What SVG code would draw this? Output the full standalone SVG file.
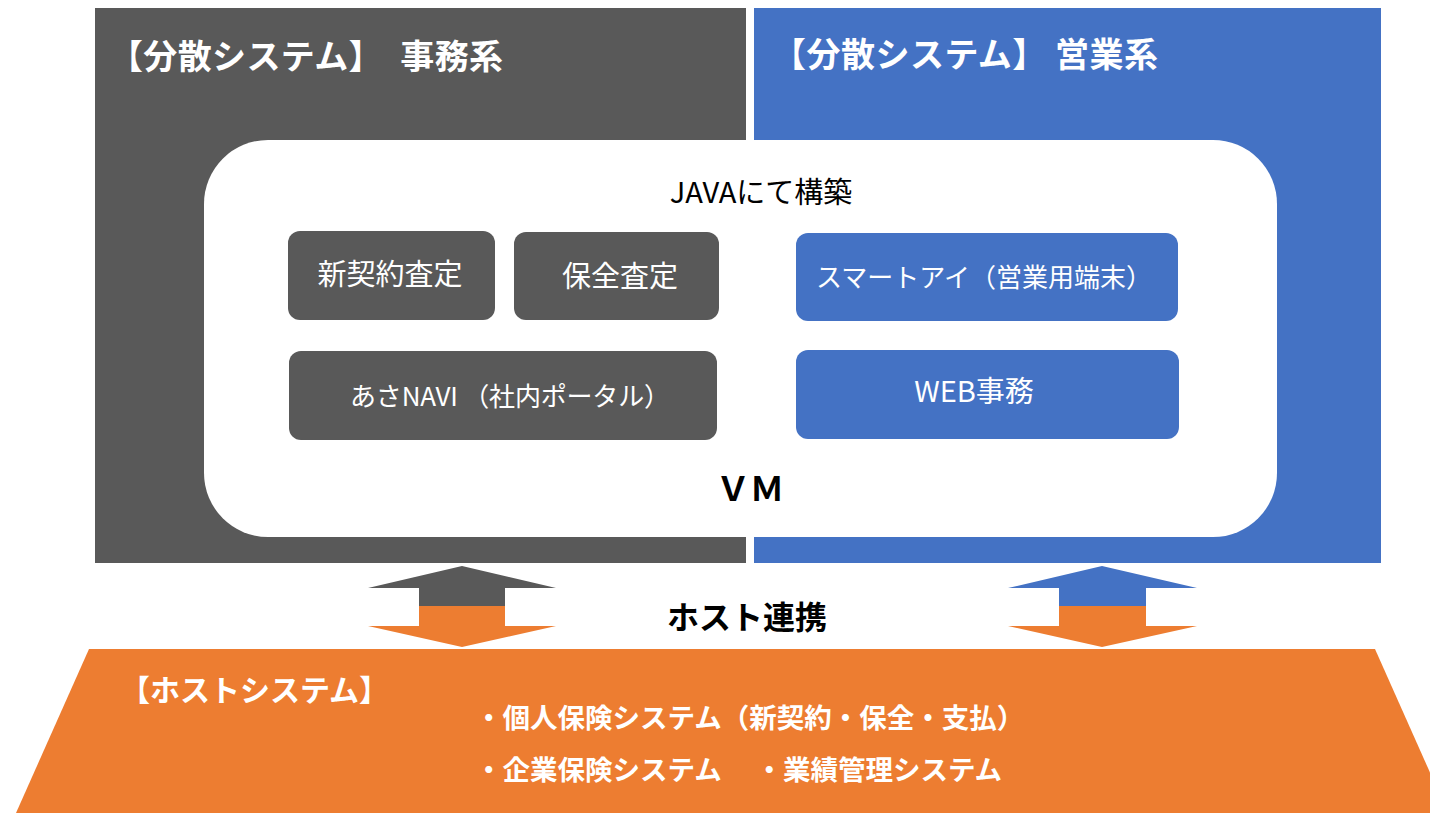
<svg xmlns="http://www.w3.org/2000/svg" width="1430" height="813" viewBox="0 0 1430 813">
<style>
text{font-family:"Noto Sans CJK JP","Noto Sans",sans-serif}
.title{font-size:34px;font-weight:bold;fill:#fff}
.lbl{font-size:29px;fill:#fff;text-anchor:middle}
.gray{fill:#595959}
.blue{fill:#4472C4}
.orange{fill:#ED7D31}
.host{font-size:27.5px;font-weight:bold;fill:#fff}
</style>
<rect width="1430" height="813" fill="#fff"/>
<g id="panel-jimu">
<rect class="gray" x="95" y="8" width="651" height="555"/>
<text class="title" x="109" y="69" textLength="394" lengthAdjust="spacing">【分散システム】　事務系</text>
</g>
<g id="panel-eigyo">
<rect class="blue" x="754" y="8" width="627" height="555"/>
<text class="title" x="772" y="67" textLength="386" lengthAdjust="spacing">【分散システム】 営業系</text>
</g>
<g id="vm">
<rect x="204" y="140" width="1073" height="397" rx="64" ry="64" fill="#fff"/>
<text x="761" y="203" font-size="29" text-anchor="middle" fill="#000">JAVAにて構築</text>
<text x="750" y="501" font-size="34" font-weight="bold" text-anchor="middle" fill="#000">ＶＭ</text>
</g>
<g id="node-shinkeiyaku">
<rect class="gray" x="288" y="231" width="207" height="89" rx="12"/>
<text class="lbl" x="390" y="285">新契約査定</text>
</g>
<g id="node-hozen">
<rect class="gray" x="514" y="232" width="205" height="88" rx="12"/>
<text class="lbl" x="620" y="287">保全査定</text>
</g>
<g id="node-asanavi">
<rect class="gray" x="289" y="351" width="428" height="89" rx="12"/>
<text class="lbl" x="350" y="406" style="font-size:26px;text-anchor:start" textLength="320" lengthAdjust="spacing">あさNAVI （社内ポータル）</text>
</g>
<g id="node-smarteye">
<rect class="blue" x="796" y="233" width="382" height="88" rx="12"/>
<text class="lbl" x="984" y="287" style="font-size:26px">スマートアイ（営業用端末）</text>
</g>
<g id="node-web">
<rect class="blue" x="796" y="350" width="383" height="89" rx="12"/>
<text class="lbl" x="974" y="402">WEB事務</text>
</g>
<g id="connectors">
<g id="arrow-left">
<polygon class="gray" points="462,566 556,588 505,588 505,607 419,607 419,588 368,588"/>
<polygon class="orange" points="419,606 505,606 505,626 556,626 462,647 368,626 419,626"/>
</g>
<g id="arrow-right">
<polygon class="blue" points="1102,566 1197,588 1146,588 1146,607 1059,607 1059,588 1008,588"/>
<polygon class="orange" points="1059,606 1146,606 1146,626 1197,626 1102,647 1008,626 1059,626"/>
</g>
<text x="747" y="629" font-size="32" font-weight="bold" text-anchor="middle" fill="#000">ホスト連携</text>
</g>
<g id="host">
<polygon class="orange" points="89,649 1375,649 1448,813 16,813"/>
<text class="host" x="120" y="701" style="font-size:30px">【ホストシステム】</text>
<text class="host" x="475" y="728">・個人保険システム（新契約・保全・支払）</text>
<text class="host" x="475" y="780">・企業保険システム　 ・業績管理システム</text>
</g>
</svg>
